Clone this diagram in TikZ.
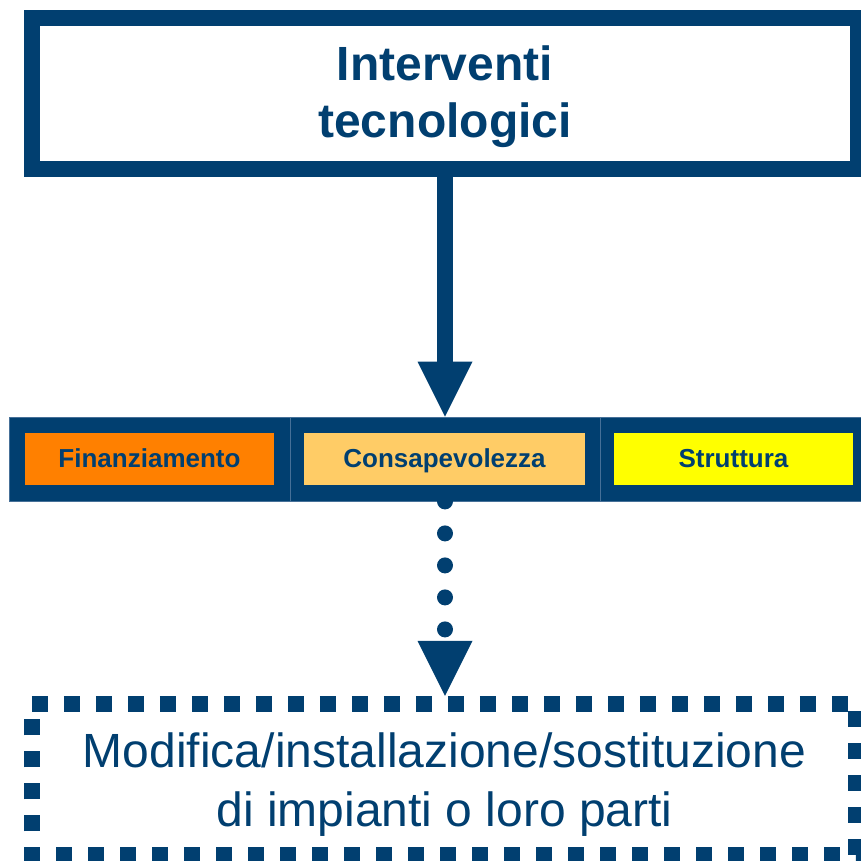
\documentclass[tikz,border=0pt]{standalone}
\usepackage{fontspec}
\setmainfont{Liberation Sans}
\usetikzlibrary{arrows.meta}

\definecolor{navy}{RGB}{1,63,112}
\definecolor{navyedge}{RGB}{70,112,152}
\definecolor{fundorange}{RGB}{255,128,0}
\definecolor{awarecream}{RGB}{255,204,102}
\definecolor{structyellow}{RGB}{255,255,0}

\tikzset{
  frame/.style={draw=navy, line width=16pt, fill=white, inner sep=0pt,
    minimum width=826pt, minimum height=151pt},
  cell/.style={fill=navy, draw=navyedge, line width=0.8pt, inner sep=0pt,
    minimum height=84pt},
  tag/.style={inner sep=0pt, minimum height=52pt, text=navy,
    font=\fontsize{26}{30}\selectfont\bfseries, text height=18pt, text depth=2pt},
  bigbold/.style={text=navy, font=\fontsize{48}{56}\selectfont\bfseries,
    inner sep=0pt, anchor=base},
  bigtext/.style={text=navy, font=\fontsize{48}{56}\selectfont,
    inner sep=0pt, anchor=base},
  flow/.style={draw=navy, line width=16pt,
    -{Triangle[width=55pt,length=55pt,line width=0pt]}},
  dotflow/.style={flow, line cap=round, dash pattern=on 0pt off 32pt},
  dashframe/.style={draw=navy, line width=16pt, miter limit=10,
    dash pattern=on 16pt off 16pt},
}

\begin{document}
\begin{tikzpicture}[x=1pt, y=-1pt]
\useasboundingbox (0,0) rectangle (861,861);

% title box
\node[frame] (top) at (445,93.5) {};
\node[bigbold] (t1) at (445,81) {Interventi};
\node[bigbold] (t2) at (445,137.5) {tecnologici};

% band of three factors
\node[cell, minimum width=281pt] (cell1) at (149.5,459) {};
\node[cell, minimum width=310pt] (cell2) at (445,459) {};
\node[cell, minimum width=268pt] (cell3) at (734,459) {};
\node[tag, fill=fundorange, minimum width=249pt] (fin) at (149.5,459) {Finanziamento};
\node[tag, fill=awarecream, minimum width=281pt] (con) at (444.5,459) {Consapevolezza};
\node[tag, fill=structyellow, minimum width=239pt] (str) at (733.5,459) {Struttura};

% outcome box with square-dashed border
\node[inner sep=0pt, minimum width=824pt, minimum height=151pt] (bot) at (444,779.5) {};
\draw[dashframe] (bot.north west) -- (bot.north east) -- (bot.south east)
  -- (bot.south west) -- cycle;
\node[bigtext] (b1) at (444.5,767) {Modifica/installazione/sostituzione};
\node[bigtext] (b2) at (444.5,826) {di impianti o loro parti};

% connectors
\coordinate (land) at ([yshift=8pt]bot.north);
\draw[flow] (top.south) -- (cell2.north);
\draw[dotflow] (cell2.south) -- (cell2.south |- land);
\end{tikzpicture}
\end{document}
